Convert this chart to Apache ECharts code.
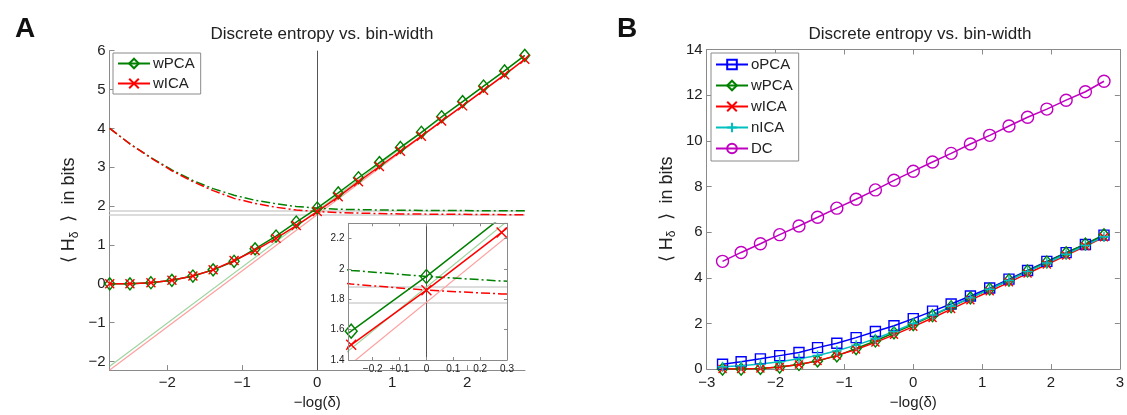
<!DOCTYPE html>
<html><head><meta charset="utf-8">
<script src="https://cdn.jsdelivr.net/npm/echarts@6/dist/echarts.min.js"></script>
<style>html,body{margin:0;padding:0;background:#fff}#c{width:1127px;height:415px}</style>
</head><body><div id="c"></div>
<script>
// ---------- data ----------
const xVals  = [-2.77,-2.50,-2.22,-1.94,-1.66,-1.39,-1.11,-0.83,-0.55,-0.28,0,0.28,0.55,0.83,1.11,1.39,1.66,1.94,2.22,2.50,2.77];
const wPCA   = [0.00,0.00,0.03,0.09,0.20,0.36,0.58,0.90,1.23,1.59,1.95,2.34,2.73,3.12,3.51,3.90,4.30,4.69,5.09,5.48,5.88];
const wICA   = [0.00,0.00,0.03,0.09,0.20,0.36,0.60,0.86,1.17,1.50,1.86,2.24,2.63,3.02,3.41,3.80,4.19,4.58,4.98,5.38,5.78];
const wPCAcorr = [4.00,3.60,3.25,2.93,2.66,2.45,2.28,2.15,2.06,1.99,1.95,1.92,1.91,1.90,1.895,1.89,1.885,1.885,1.88,1.88,1.88];
const wICAcorr = [4.00,3.60,3.24,2.91,2.63,2.40,2.20,2.07,1.97,1.90,1.86,1.835,1.82,1.81,1.80,1.795,1.79,1.79,1.785,1.78,1.78];
const asymX    = [-2.77, 2.77];
const wPCAasym = [-2.12, 5.88];
const wICAasym = [-2.22, 5.78];
const asymLevels = [1.88, 1.78];
const refX = [0];
const oPCA = [0.21,0.32,0.45,0.59,0.73,0.94,1.13,1.38,1.65,1.90,2.21,2.54,2.85,3.20,3.55,3.94,4.32,4.72,5.10,5.46,5.87];
const nICA = [0.10,0.15,0.22,0.32,0.45,0.60,0.80,1.05,1.33,1.65,2.00,2.37,2.75,3.12,3.50,3.88,4.27,4.65,5.03,5.42,5.80];
const DC   = [4.72,5.11,5.49,5.89,6.27,6.65,7.05,7.44,7.85,8.27,8.67,9.07,9.45,9.86,10.24,10.65,11.03,11.39,11.78,12.15,12.61];
const ticksAx = [-2,-1,0,1,2];
const ticksAy = [-2,-1,0,1,2,3,4,5,6];
const ticksIx = [-0.2,-0.1,0,0.1,0.2,0.3];
const ticksIy = [1.4,1.6,1.8,2,2.2];

// ---------- helpers ----------
const FONT = 'Liberation Sans, Arial, sans-serif';
const AX = '#8a8a8a';
const TXT = '#222';
const GREEN = '#008000', RED = '#ff0000', BLUE = '#0000ff', CYAN = '#00bfbf', MAG = '#c000c0';
const pair = (xs, ys) => xs.map((x, i) => [x, ys[i]]);
const minus = v => String(v).replace('-', '\u2212');
const X_SYM = 'path://M0,0L10,10M10,0L0,10';
const P_SYM = 'path://M5,0L5,10M0,5L10,5';

function axis(o) {
  return Object.assign({
    type: 'value', splitLine: {show: false},
    axisLine: {show: true, onZero: false, lineStyle: {color: AX, width: 1}},
    axisTick: {show: true, inside: true, length: 5, lineStyle: {color: AX}},
    axisLabel: {color: TXT, fontSize: 15, fontFamily: FONT, formatter: minus},
  }, o);
}

function mainSeries(name, ys, color, sym, size, xAxisIndex, yAxisIndex, z) {
  return {
    name, type: 'line', data: pair(xVals, ys), xAxisIndex, yAxisIndex, z,
    symbol: sym, symbolSize: size, showSymbol: true, clip: true,
    lineStyle: {color, width: 1.5},
    itemStyle: {color: 'rgba(0,0,0,0)', borderColor: color, borderWidth: 1.4},
    emphasis: {disabled: true}, silent: true
  };
}
function plain(ys, xs, color, width, type, xAxisIndex, yAxisIndex, z) {
  return {
    type: 'line', data: pair(xs, ys), xAxisIndex, yAxisIndex, z, symbol: 'none', clip: true,
    lineStyle: {color, width, type}, silent: true, emphasis: {disabled: true}
  };
}
function refLines(xAxisIndex, yAxisIndex, z) {
  return {
    type: 'line', data: [], xAxisIndex, yAxisIndex, z, silent: true,
    markLine: {
      silent: true, symbol: ['none', 'none'], label: {show: false}, animation: false, z: z,
      data: asymLevels.map(v => ({yAxis: v, lineStyle: {color: '#dcdcdc', width: 2, type: 'solid'}}))
        .concat(refX.map(v => ({xAxis: v, lineStyle: {color: '#555', width: 1, type: 'solid'}})))
    }
  };
}

const DASHDOT = [9, 3, 2, 3];
const yName = '{a|\u27e8 H}{s|\u03b4}{a|  \u27e9  in bits}';
const yNameStyle = {color: TXT, fontFamily: FONT, rich: {
  a: {fontSize: 18, color: TXT, fontFamily: FONT},
  s: {fontSize: 12, color: TXT, fontFamily: FONT, padding: [10, 0, 0, 0]}}};

const option = {
  animation: false,
  textStyle: {fontFamily: FONT},
  title: [
    {text: 'A', left: 10, top: 10, textStyle: {fontSize: 28, fontWeight: 'bold', color: '#111', fontFamily: FONT}},
    {text: 'B', left: 612, top: 10, textStyle: {fontSize: 28, fontWeight: 'bold', color: '#111', fontFamily: FONT}},
    {text: 'Discrete entropy vs. bin-width', left: 317, textAlign: 'center', top: 21, textStyle: {fontSize: 17, fontWeight: 'normal', color: TXT, fontFamily: FONT}},
    {text: 'Discrete entropy vs. bin-width', left: 915, textAlign: 'center', top: 21, textStyle: {fontSize: 17, fontWeight: 'normal', color: TXT, fontFamily: FONT}}
  ],
  legend: [
    {data: ['wPCA', 'wICA'], left: 113, top: 53, orient: 'vertical', itemGap: 5, itemWidth: 32, itemHeight: 12,
     backgroundColor: '#fff', borderColor: AX, borderWidth: 1, padding: [3, 6, 3, 4], selectedMode: false,
     textStyle: {fontSize: 15, color: TXT, fontFamily: FONT, padding: [0, 0, 0, -2]}},
    {data: ['oPCA', 'wPCA', 'wICA', 'nICA', 'DC'], left: 711, top: 53, orient: 'vertical', itemGap: 6, itemWidth: 32, itemHeight: 12,
     backgroundColor: '#fff', borderColor: AX, borderWidth: 1, padding: [4, 6, 5, 4], selectedMode: false,
     textStyle: {fontSize: 15, color: TXT, fontFamily: FONT, padding: [0, 0, 0, -2]}}
  ],
  grid: [
    {left: 109.5, top: 50.7, width: 415.5, height: 326, containLabel: false},
    {left: 348.5, top: 223.3, width: 158.5, height: 136.7, show: true, backgroundColor: '#fff', borderWidth: 0, z: 8},
    {left: 706.7, top: 49.5, width: 417.3, height: 329}
  ],
  xAxis: [
    axis({gridIndex: 0, min: -2.773, max: 2.773,
      axisTick: {show: true, inside: true, length: 5, lineStyle: {color: AX}, customValues: ticksAx},
      axisLabel: {color: TXT, fontSize: 15, fontFamily: FONT, formatter: minus, customValues: ticksAx, margin: 5},
      name: '\u2212log(\u03b4)', nameLocation: 'middle', nameGap: 20,
      nameTextStyle: {fontSize: 15, color: TXT, fontFamily: FONT}}),
    axis({gridIndex: 1, min: -0.29, max: 0.3, z: 11,
      axisTick: {show: true, inside: true, length: 3, lineStyle: {color: AX}, customValues: ticksIx},
      axisLabel: {color: TXT, fontSize: 10, fontFamily: FONT, formatter: minus, customValues: ticksIx, margin: 4}}),
    axis({gridIndex: 1, min: -0.29, max: 0.3, z: 11, position: 'top',
      axisTick: {show: true, inside: true, length: 3, lineStyle: {color: AX}, customValues: ticksIx},
      axisLabel: {show: false}}),
    axis({gridIndex: 2, min: -3, max: 3, interval: 1,
      axisLabel: {color: TXT, fontSize: 15, fontFamily: FONT, formatter: minus, margin: 6},
      name: '\u2212log(\u03b4)', nameLocation: 'middle', nameGap: 22,
      nameTextStyle: {fontSize: 15, color: TXT, fontFamily: FONT}}),
    axis({gridIndex: 2, min: -3, max: 3, interval: 1, position: 'top', axisLabel: {show: false}})
  ],
  yAxis: [
    axis({gridIndex: 0, min: -2.22, max: 6,
      axisTick: {show: true, inside: true, length: 5, lineStyle: {color: AX}, customValues: ticksAy},
      axisLabel: {color: TXT, fontSize: 15, fontFamily: FONT, formatter: minus, customValues: ticksAy, margin: 4},
      name: yName, nameLocation: 'middle', nameGap: 29, nameTextStyle: yNameStyle}),
    axis({gridIndex: 1, min: 1.4, max: 2.3, z: 11,
      axisTick: {show: true, inside: true, length: 3, lineStyle: {color: AX}, customValues: ticksIy},
      axisLabel: {color: TXT, fontSize: 10, fontFamily: FONT, formatter: minus, customValues: ticksIy, margin: 4}}),
    axis({gridIndex: 1, min: 1.4, max: 2.3, z: 11, position: 'right',
      axisTick: {show: true, inside: true, length: 3, lineStyle: {color: AX}, customValues: ticksIy},
      axisLabel: {show: false}}),
    axis({gridIndex: 2, min: 0, max: 14, interval: 2,
      axisLabel: {color: TXT, fontSize: 15, fontFamily: FONT, formatter: minus, margin: 4},
      name: yName, nameLocation: 'middle', nameGap: 29, nameTextStyle: yNameStyle}),
    axis({gridIndex: 2, min: 0, max: 14, interval: 2, position: 'right', axisLabel: {show: false}})
  ],
  series: [
    // ---- panel A ----
    refLines(0, 0, 1),
    plain(wPCAasym, asymX, '#9fd49f', 1.2, 'solid', 0, 0, 2),
    plain(wICAasym, asymX, '#ff9f9f', 1.2, 'solid', 0, 0, 2),
    plain(wPCAcorr, xVals, GREEN, 1.5, DASHDOT, 0, 0, 2),
    plain(wICAcorr, xVals, RED, 1.5, DASHDOT, 0, 0, 2),
    mainSeries('wPCA', wPCA, GREEN, 'diamond', [10, 12], 0, 0, 3),
    mainSeries('wICA', wICA, RED, X_SYM, 9, 0, 0, 3),
    // ---- inset ----
    refLines(1, 1, 9),
    plain(wPCAasym, asymX, '#9fd49f', 1.2, 'solid', 1, 1, 10),
    plain(wICAasym, asymX, '#ff9f9f', 1.2, 'solid', 1, 1, 10),
    plain(wPCAcorr, xVals, GREEN, 1.5, DASHDOT, 1, 1, 10),
    plain(wICAcorr, xVals, RED, 1.5, DASHDOT, 1, 1, 10),
    mainSeries('wPCA inset', wPCA, GREEN, 'diamond', [12, 14], 1, 1, 10),
    mainSeries('wICA inset', wICA, RED, X_SYM, 10, 1, 1, 10),
    // ---- panel B ----
    mainSeries('oPCA', oPCA, BLUE, 'rect', 10, 3, 3, 3),
    mainSeries('wPCA', wPCA, GREEN, 'diamond', [10, 12], 3, 3, 3),
    mainSeries('wICA', wICA, RED, X_SYM, 8, 3, 3, 3),
    mainSeries('nICA', nICA, CYAN, P_SYM, 10, 3, 3, 3),
    mainSeries('DC', DC, MAG, 'circle', 12, 3, 3, 3)
  ]
};

const chart = echarts.init(document.getElementById('c'), null, {renderer: 'canvas'});
chart.setOption(option);
</script></body></html>
